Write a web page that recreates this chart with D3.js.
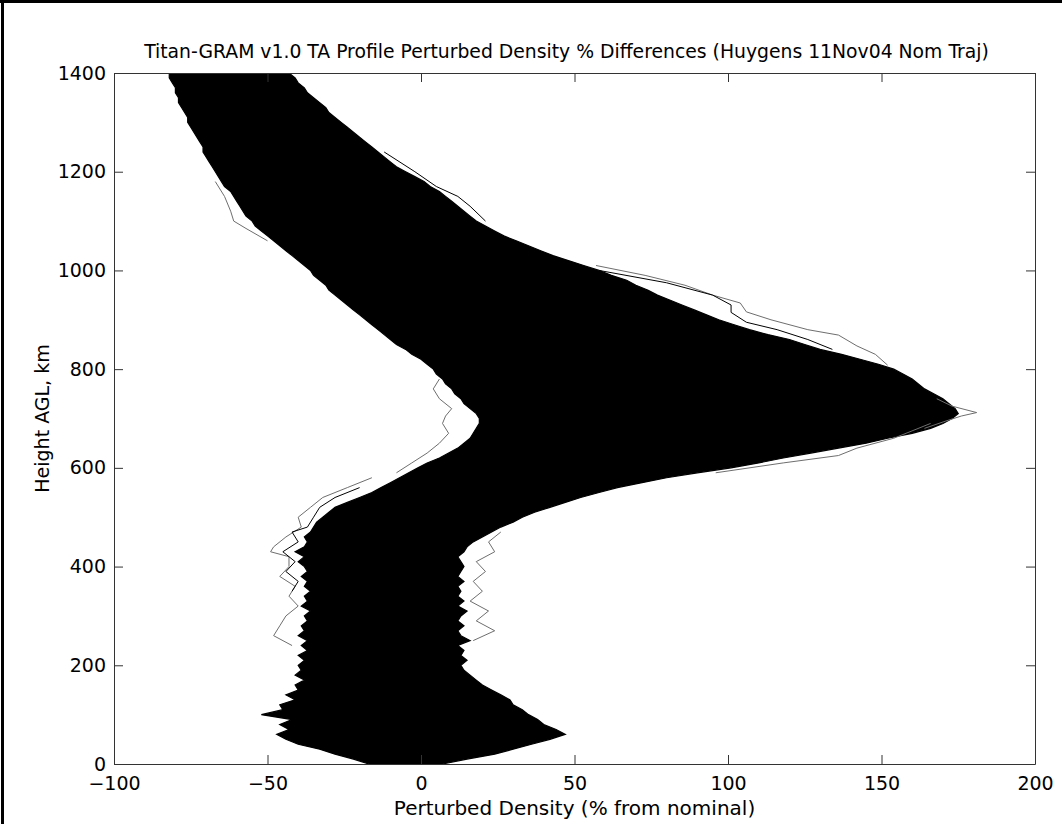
<!DOCTYPE html>
<html>
<head>
<meta charset="utf-8">
<script src="https://cdn.jsdelivr.net/npm/d3@7"></script>
<style>
  html, body { margin: 0; padding: 0; background: #fff; }
  svg { display: block; }
  text { font-family: "DejaVu Sans", "Liberation Sans", Arial, sans-serif; fill: #000; }
</style>
</head>
<body>
<div id="chart"></div>
<script>
// ---------------- DATA ----------------
const titleText = "Titan-GRAM v1.0 TA Profile Perturbed Density % Differences (Huygens 11Nov04 Nom Traj)";
const xLabelText = "Perturbed Density (% from nominal)";
const yLabelText = "Height AGL, km";
const xTicks = [-100, -50, 0, 50, 100, 150, 200];
const yTicks = [0, 200, 400, 600, 800, 1000, 1200, 1400];

// Heights (km) of the envelope samples, 0..1400 every 10 km
const heights = [
  0,10,20,30,40,50,60,70,80,90,100,110,120,130,140,150,160,170,180,190,
  200,210,220,230,240,250,260,270,280,290,300,310,320,330,340,350,360,370,380,390,
  400,410,420,430,440,450,460,470,480,490,500,510,520,530,540,550,560,570,580,590,
  600,610,620,630,640,650,660,670,680,690,700,710,720,730,740,750,760,770,780,790,
  800,810,820,830,840,850,860,870,880,890,900,910,920,930,940,950,960,970,980,990,
  1000,1010,1020,1030,1040,1050,1060,1070,1080,1090,1100,1110,1120,1130,1140,1150,1160,1170,1180,1190,
  1200,1210,1220,1230,1240,1250,1260,1270,1280,1290,1300,1310,1320,1330,1340,1350,1360,1370,1380,1390,1400];

// Left (minimum) edge of the envelope of perturbed profiles (%)
const envelopeLeft = [
  -17,-22,-28,-33,-40,-44,-47,-43,-46,-42,-52,-45,-46,-41,-44,-40,-41,-38,-41,-39,
  -40,-38,-40,-37,-39,-37,-40,-38,-39,-37,-38,-36,-39,-37,-38,-36,-38,-37,-39,-37,
  -38,-40,-38,-41,-38,-37,-38,-36,-35,-34,-32,-30,-28,-24,-20,-16,-13,-10,-7,-4,
  -1,2,6,9,12,14,16,17,18,19,19,18,16,14,13,11,10,8,7,5,
  4,2,0,-3,-5,-8,-10,-12,-14,-16,-18,-20,-22,-24,-26,-28,-30,-31,-33,-35,
  -36,-38,-40,-42,-44,-46,-48,-50,-52,-54,-55,-57,-58,-59,-60,-61,-62,-64,-65,-66,
  -67,-68,-69,-70,-71,-71,-72,-73,-74,-75,-76,-76,-77,-78,-79,-79,-80,-80,-81,-82,-82];

// Right (maximum) edge of the envelope of perturbed profiles (%)
const envelopeRight = [
  7,15,24,30,36,42,47,44,40,38,35,33,30,29,26,23,20,18,16,14,
  13,15,13,14,12,16,13,12,14,12,13,15,12,14,12,13,12,14,12,13,
  14,13,12,14,15,17,20,23,26,30,33,37,42,47,52,58,64,72,80,90,
  101,110,118,127,136,145,152,160,166,170,173,175,174,172,170,167,164,162,160,157,
  154,149,143,137,130,125,120,113,107,102,97,93,89,85,81,77,74,70,67,62,
  58,53,48,43,39,35,31,27,24,21,18,16,14,12,10,8,6,3,1,-2,
  -5,-8,-10,-12,-14,-16,-18,-20,-22,-24,-26,-28,-30,-31,-33,-35,-37,-38,-40,-41,-43];

// Individual perturbed profiles that stray outside the dense envelope
const outlierAHeights = [1010, 990, 970, 950, 934, 916, 900, 880, 869, 847, 830, 808];
const outlierAValues  = [57, 73, 86, 95, 104, 106, 114, 126, 136, 142, 148, 152];
const outlierBHeights = [1000, 975, 950, 930, 915, 895, 880, 860, 840];
const outlierBValues  = [58, 80, 95, 101, 101, 106, 116, 126, 134];
const outlierCHeights = [740, 725, 712, 705, 695, 680];
const outlierCValues  = [168, 173, 181, 176, 171, 164];
const outlierDHeights = [690, 660, 640, 625, 610, 590];
const outlierDValues  = [166, 154, 142, 136, 118, 96];
const outlierEHeights = [580, 560, 540, 520, 500, 480, 460, 440, 430, 420, 400, 380, 360, 340, 320, 300, 280, 260, 240];
const outlierEValues  = [-16, -24, -32, -36, -40, -39, -44, -48, -49, -43, -43, -46, -41, -43, -40, -44, -46, -48, -42];
const outlierFHeights = [780, 760, 740, 720, 705, 690, 670, 650, 630, 610, 590];
const outlierFValues  = [6, 4, 6, 10, 8, 7, 9, 6, 2, -3, -8];
const outlierGHeights = [1180, 1150, 1120, 1100, 1085, 1060];
const outlierGValues  = [-67, -64, -62, -61, -57, -50];
const outlierHHeights = [1240, 1200, 1170, 1150, 1130, 1100];
const outlierHValues  = [-12, -2, 5, 12, 16, 21];
const outlierIHeights = [560, 540, 520, 500, 480, 470, 450, 430, 410, 390, 370, 350];
const outlierIValues  = [-20, -28, -33, -35, -37, -42, -40, -45, -41, -44, -40, -42];
const outlierJHeights = [470, 450, 430, 410, 390, 370, 350, 330, 310, 290, 270, 250];
const outlierJValues  = [26, 22, 24, 18, 21, 17, 20, 16, 22, 18, 24, 17];

// ---------------- CHART ----------------
const W = 1062, H = 824;
const plot = { left: 114, top: 73, right: 1035, bottom: 764 };

const svg = d3.select("#chart").append("svg").attr("width", W).attr("height", H);
svg.append("rect").attr("width", W).attr("height", H).attr("fill", "#fff");

const x = d3.scaleLinear().domain([-100, 200]).range([plot.left, plot.right]);
const y = d3.scaleLinear().domain([0, 1400]).range([plot.bottom, plot.top]);

svg.append("clipPath").attr("id", "clip").append("rect")
  .attr("x", plot.left).attr("y", plot.top)
  .attr("width", plot.right - plot.left).attr("height", plot.bottom - plot.top);

const g = svg.append("g");
const dataG = g.append("g").attr("clip-path", "url(#clip)");

const env = heights.map((h, i) => ({ h, l: envelopeLeft[i], r: envelopeRight[i] }));
const area = d3.area().y(d => y(d.h)).x0(d => x(d.l)).x1(d => x(d.r));
dataG.append("path").datum(env).attr("d", area)
  .attr("fill", "#000").attr("stroke", "#000").attr("stroke-width", 1.2);

const line = d3.line().x(d => x(d.v)).y(d => y(d.h));
const outliers = [
  { hs: outlierAHeights, vs: outlierAValues, c: "#6e6e6e" },
  { hs: outlierBHeights, vs: outlierBValues, c: "#000" },
  { hs: outlierCHeights, vs: outlierCValues, c: "#6e6e6e" },
  { hs: outlierDHeights, vs: outlierDValues, c: "#6e6e6e" },
  { hs: outlierEHeights, vs: outlierEValues, c: "#6e6e6e" },
  { hs: outlierFHeights, vs: outlierFValues, c: "#6e6e6e" },
  { hs: outlierGHeights, vs: outlierGValues, c: "#6e6e6e" },
  { hs: outlierHHeights, vs: outlierHValues, c: "#000" },
  { hs: outlierIHeights, vs: outlierIValues, c: "#000" },
  { hs: outlierJHeights, vs: outlierJValues, c: "#6e6e6e" }
];
outliers.forEach(o => {
  dataG.append("path").datum(o.hs.map((h, i) => ({ h, v: o.vs[i] })))
    .attr("d", line).attr("fill", "none").attr("stroke", o.c).attr("stroke-width", 1);
});

// Axes (MATLAB style box with inward ticks on all sides)
const tickLen = 9;
const axisColor = "#333";
const axB = d3.axisBottom(x).tickValues(xTicks).tickSize(-tickLen).tickSizeOuter(0).tickPadding(13).tickFormat(d3.format("d"));
const axT = d3.axisTop(x).tickValues(xTicks).tickSize(-tickLen).tickSizeOuter(0).tickFormat("");
const axL = d3.axisLeft(y).tickValues(yTicks).tickSize(-tickLen).tickSizeOuter(0).tickPadding(8).tickFormat(d3.format("d"));
const axR = d3.axisRight(y).tickValues(yTicks).tickSize(-tickLen).tickSizeOuter(0).tickFormat("");

function styleAxis(sel) {
  sel.select(".domain").attr("stroke", axisColor).attr("stroke-width", 1);
  sel.selectAll(".tick line").attr("stroke", axisColor).attr("stroke-width", 1);
  sel.selectAll(".tick text").style("font-family", '"DejaVu Sans", sans-serif').style("font-size", "19px").attr("fill", "#000");
}
g.append("g").attr("transform", `translate(0,${plot.bottom})`).call(axB).call(styleAxis);
g.append("g").attr("transform", `translate(0,${plot.top})`).call(axT).call(styleAxis);
g.append("g").attr("transform", `translate(${plot.left},0)`).call(axL).call(styleAxis);
g.append("g").attr("transform", `translate(${plot.right},0)`).call(axR).call(styleAxis);

// Title and labels
svg.append("text").attr("x", (plot.left + plot.right) / 2 - 8).attr("y", 58)
  .attr("text-anchor", "middle").style("font-size", "18.8px").text(titleText);
svg.append("text").attr("x", (plot.left + plot.right) / 2).attr("y", 815)
  .attr("text-anchor", "middle").style("font-size", "20px").text(xLabelText);
svg.append("text").attr("transform", `translate(49,${(plot.top + plot.bottom) / 2}) rotate(-90)`)
  .attr("text-anchor", "middle").style("font-size", "19px").text(yLabelText);

// Figure border (top and left edges)
svg.append("line").attr("x1", 0).attr("x2", W).attr("y1", 1.5).attr("y2", 1.5).attr("stroke", "#000").attr("stroke-width", 3);
svg.append("line").attr("x1", 2.5).attr("x2", 2.5).attr("y1", 0).attr("y2", H).attr("stroke", "#000").attr("stroke-width", 3);
</script>
</body>
</html>
